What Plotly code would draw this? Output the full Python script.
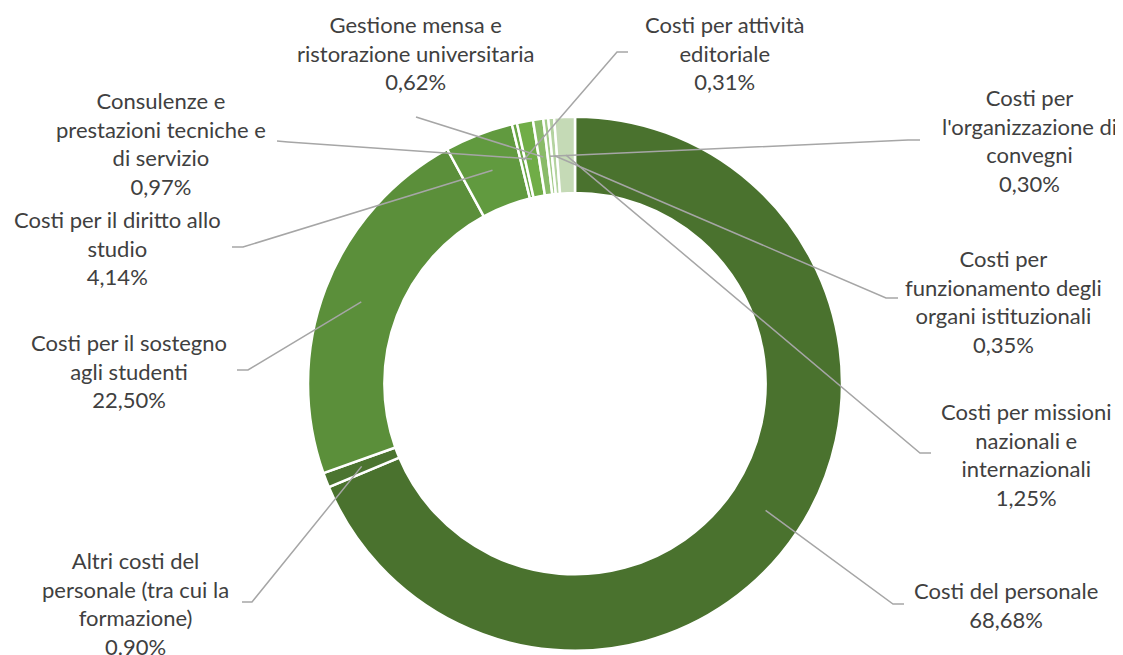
import math
import plotly.graph_objects as go

# data (clockwise from 12 o'clock)
categories = [
    "Costi del personale",
    "Altri costi del personale (tra cui la formazione)",
    "Costi per il sostegno agli studenti",
    "Costi per il diritto allo studio",
    "Costi per attività editoriale",
    "Consulenze e prestazioni tecniche e di servizio",
    "Gestione mensa e ristorazione universitaria",
    "Costi per l'organizzazione di convegni",
    "Costi per funzionamento degli organi istituzionali",
    "Costi per missioni nazionali e internazionali",
]
values = [68.68, 0.90, 22.50, 4.14, 0.31, 0.97, 0.62, 0.30, 0.35, 1.25]
pct_text = ["68,68%", "0.90%", "22,50%", "4,14%", "0,31%", "0,97%", "0,62%", "0,30%", "0,35%", "1,25%"]
wrapped = [
    "Costi del personale",
    "Altri costi del<br>personale (tra cui la<br>formazione)",
    "Costi per il sostegno<br>agli studenti",
    "Costi per il diritto allo<br>studio",
    "Costi per attività<br>editoriale",
    "Consulenze e<br>prestazioni tecniche e<br>di servizio",
    "Gestione mensa e<br>ristorazione universitaria",
    "Costi per<br>l'organizzazione di<br>convegni",
    "Costi per<br>funzionamento degli<br>organi istituzionali",
    "Costi per missioni<br>nazionali e<br>internazionali",
]
colors = ["#4a722e", "#4b7430", "#5b8f3a", "#619a3f", "#69a544",
          "#70ad47", "#89bb68", "#a3cb89", "#b4d3a0", "#c5dab6"]

# layout: label centre (screen px) and leader elbow / end (screen px)
label_pos = [(1006, 605), (135, 603), (129, 371), (118, 248), (725, 53),
             (161, 143), (415, 53), (1029, 141), (1003, 301), (1026, 454)]
leader = [((893, 604), (904, 604)), ((252, 602), (242, 602)), ((248, 370), (237, 370)),
          ((243, 247), (232, 247)), ((617, 52), (628, 52)), ((288, 142), (277, 141)),
          ((416, 117), (416, 117)), ((908, 140), (920, 140)), ((886, 298), (898, 298)),
          ((920, 453), (931, 453))]

# page body has an 8px margin, so the figure starts at (8, 8) on screen
OX, OY = 8, 8
W, H = 1123 - OX, 655 - OY
cx, cy, r_out, hole = 575, 383.7, 267, 0.714
r_mid = r_out * (1 + hole) / 2


def px(x):
    return (x - OX) / W


def py(y):
    return 1 - (y - OY) / H


fig = go.Figure()
fig.add_trace(go.Pie(
    labels=categories, values=values, sort=False, direction="clockwise", rotation=0,
    hole=hole, textinfo="none", showlegend=False,
    marker=dict(colors=colors, line=dict(color="white", width=2.5)),
    domain=dict(x=[px(cx - r_out), px(cx + r_out)], y=[py(cy + r_out), py(cy - r_out)]),
))

total = sum(values)
cum = 0
shapes = []
annotations = []
for i, v in enumerate(values):
    theta = 2 * math.pi * (cum + v / 2) / total
    cum += v
    sx = cx + r_mid * math.sin(theta)
    sy = cy - r_mid * math.cos(theta)
    (ex, ey), (tx, ty) = leader[i]
    path = f"M {px(sx)},{py(sy)} L {px(ex)},{py(ey)} L {px(tx)},{py(ty)}"
    shapes.append(dict(type="path", xref="paper", yref="paper", path=path,
                       line=dict(color="#a6a6a6", width=1.5), layer="above"))
    lx, ly = label_pos[i]
    annotations.append(dict(
        x=px(lx), y=py(ly), xref="paper", yref="paper", showarrow=False,
        text=f"{wrapped[i]}<br>{pct_text[i]}", align="center",
        xanchor="center", yanchor="middle",
        font=dict(family="Lato", size=22, color="#404040"),
    ))

fig.update_layout(
    width=W, height=H, margin=dict(l=0, r=0, t=0, b=0),
    paper_bgcolor="white", plot_bgcolor="white",
    shapes=shapes, annotations=annotations,
)

fig.write_html("out.html")
